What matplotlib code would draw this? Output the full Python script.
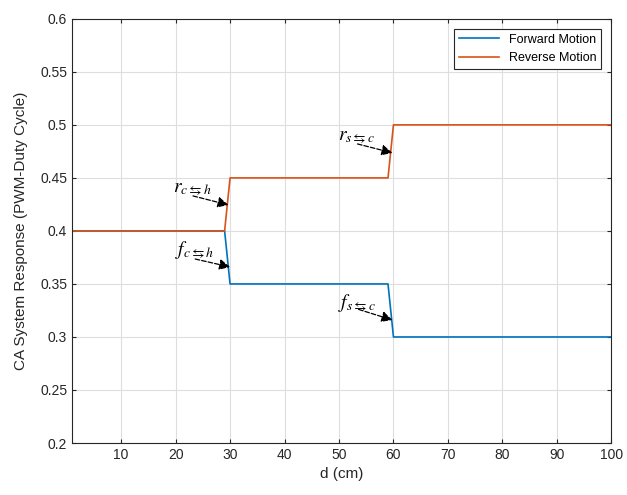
import matplotlib.pyplot as plt
import numpy as np

plt.rcParams['font.family'] = ['Liberation Sans', 'DejaVu Sans']
plt.rcParams['mathtext.fontset'] = 'stix'

# distance samples (cm)
d = np.arange(1, 101)
# step levels of the duty cycle
forward_levels = [0.4, 0.35, 0.3]
reverse_levels = [0.4, 0.45, 0.5]
switch_points = [30, 60]

def steps(levels):
    return np.select([d < switch_points[0], d < switch_points[1]], levels[:2], levels[2])

forward = steps(forward_levels)
reverse = steps(reverse_levels)

fig = plt.figure(figsize=(6.27, 4.95), dpi=100)
ax = fig.add_axes([0.115, 0.105, 0.86, 0.857])

ax.plot(d, forward, color='#0072BD', lw=1.2, label='Forward Motion')
ax.plot(d, reverse, color='#D95319', lw=1.2, label='Reverse Motion')

ax.set_xlim(1, 100)
ax.set_ylim(0.2, 0.6)
ax.set_xticks(np.arange(10, 101, 10))
ax.set_yticks(np.arange(0.2, 0.61, 0.05))
ax.set_yticklabels(['0.2', '0.25', '0.3', '0.35', '0.4', '0.45', '0.5', '0.55', '0.6'])
ax.tick_params(labelsize=10, direction='in', length=3, color='#262626', labelcolor='#262626',
               top=True, right=True)
ax.grid(True, color='#dedede', lw=0.8)
for s in ax.spines.values():
    s.set_color('#262626')
    s.set_linewidth(0.8)

ax.set_xlabel('d (cm)', fontsize=11, color='#262626')
ax.set_ylabel('CA System Response (PWM-Duty Cycle)', fontsize=11, color='#262626', labelpad=9)

arrow = dict(arrowstyle='-|>', linestyle='--', color='k', lw=0.9, mutation_scale=16,
             shrinkA=0, shrinkB=0)
# (label, label position, arrow tail, arrow tip)
labels = [
    (r'$r_{c\leftrightarrows h}$', (19.6, 0.4395), (23.2, 0.433), (29.7, 0.4245)),
    (r'$f_{c\leftrightarrows h}$', (19.9, 0.382), (23.6, 0.3735), (30.0, 0.366)),
    (r'$r_{s\leftrightarrows c}$', (49.9, 0.4877), (53.4, 0.482), (59.8, 0.4736)),
    (r'$f_{s\leftrightarrows c}$', (49.9, 0.332), (53.6, 0.326), (59.8, 0.316)),
]
for txt, pos, tail, tip in labels:
    ax.text(pos[0], pos[1], txt, fontsize=14, ha='left', va='center')
    ax.annotate('', xy=tip, xytext=tail, arrowprops=arrow)

leg = ax.legend(loc='upper right', fontsize=9, fancybox=False, edgecolor='#262626',
                framealpha=1, borderaxespad=0.8, handlelength=3.2)
leg.get_frame().set_linewidth(0.8)

fig.savefig('out.png', dpi=100)
